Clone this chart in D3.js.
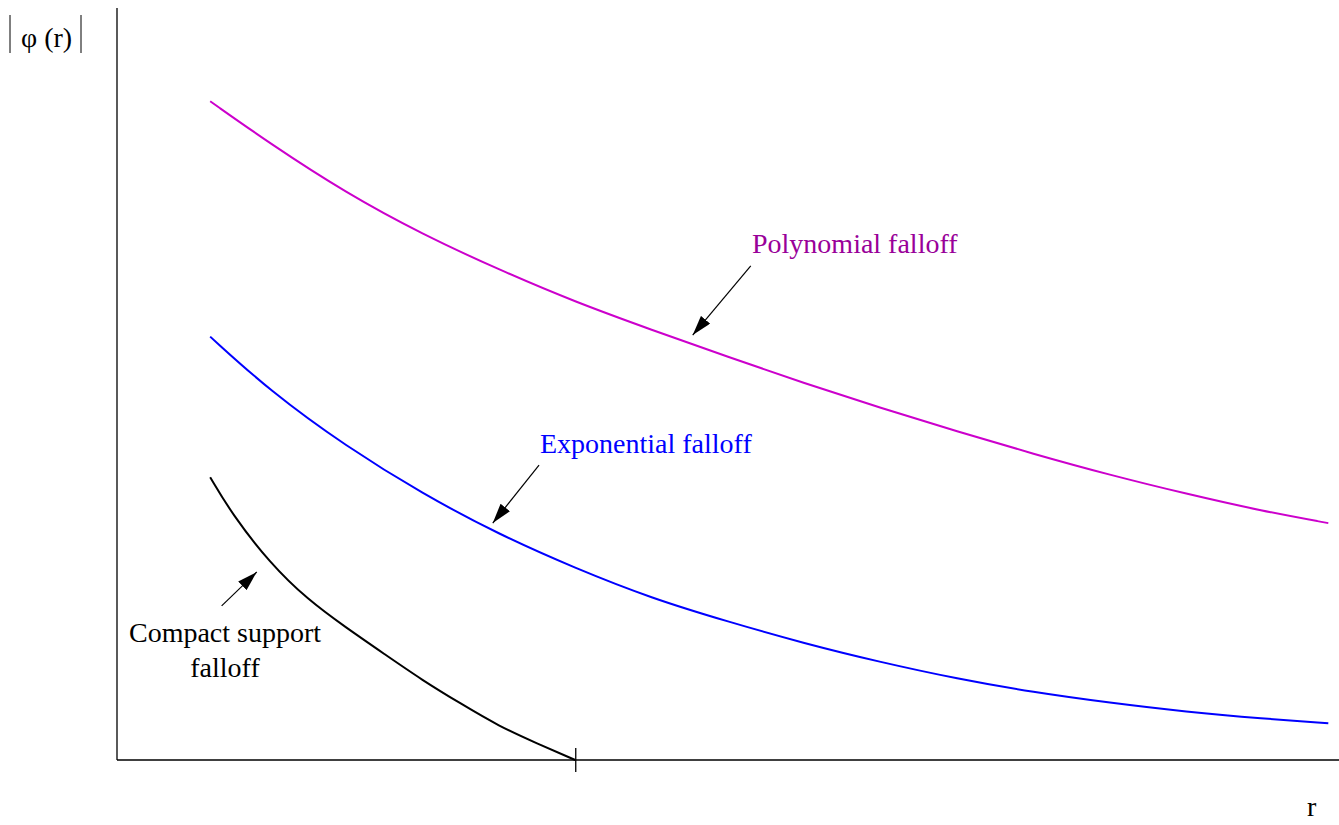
<!DOCTYPE html>
<html>
<head>
<meta charset="utf-8">
<script src="https://cdn.jsdelivr.net/npm/d3@7"></script>
<style>
  body { margin: 0; background: #fff; }
  text { font-family: "Liberation Serif", "Times New Roman", serif; }
</style>
</head>
<body>
<div class="container"></div>
<script>
// r values where the curves were sampled
const rPoly = [0.61, 1, 1.5, 2, 2.5, 3, 3.5, 4, 4.5, 5, 5.5, 6, 6.5, 7, 7.5, 7.93]
const polyVals = [0.876, 0.820, 0.754, 0.699, 0.652, 0.609, 0.572, 0.536, 0.501, 0.468, 0.437, 0.407, 0.379, 0.354, 0.331, 0.315]

const rExp = [0.61, 1, 1.5, 2, 2.5, 3, 3.5, 4, 4.5, 5, 5.5, 6, 6.5, 7, 7.5, 7.93]
const expVals = [0.563, 0.491, 0.417, 0.354, 0.300, 0.255, 0.215, 0.184, 0.155, 0.130, 0.108, 0.090, 0.076, 0.064, 0.055, 0.049]

const rCompact = [0.61, 0.75, 1, 1.25, 1.5, 1.75, 2, 2.25, 2.5, 2.75, 3]
const compactVals = [0.376, 0.328, 0.262, 0.213, 0.176, 0.141, 0.106, 0.075, 0.045, 0.022, 0]

const cutoff = 3
const seriesLabels = ["Polynomial falloff", "Exponential falloff", "Compact support", "falloff"]

const w = 1339
const h = 825
const padLeft = 117
const padBottom = 760
const padTop = 8

const svg = d3.select(".container")
              .append("svg")
              .attr("width", w)
              .attr("height", h)

const xScale = d3.scaleLinear().domain([0, 8]).range([padLeft, w])
const yScale = d3.scaleLinear().domain([0, 1]).range([padBottom, padTop])

svg.append("defs").append("marker")
   .attr("id", "head")
   .attr("viewBox", "0 0 20 12")
   .attr("refX", 20)
   .attr("refY", 6)
   .attr("markerUnits", "userSpaceOnUse")
   .attr("markerWidth", 20)
   .attr("markerHeight", 12)
   .attr("orient", "auto")
   .append("path")
   .attr("d", "M0,0 L20,6 L0,12 z")
   .attr("fill", "#000")

// axes: plain lines, only one tick at the cutoff
const xAxis = d3.axisBottom(xScale).tickValues([cutoff]).tickSize(12).tickFormat("")
svg.append("g")
   .attr("transform", "translate(0," + padBottom + ")")
   .call(xAxis)
   .call(g => g.select(".domain").attr("d", "M" + padLeft + ",0H" + w).attr("stroke-width", 1.3))
   .call(g => g.selectAll(".tick line").attr("y1", -12).attr("stroke-width", 1.3))

svg.append("line")
   .attr("x1", padLeft).attr("x2", padLeft)
   .attr("y1", padTop).attr("y2", padBottom)
   .attr("stroke", "#000").attr("stroke-width", 1.3)

const line = d3.line()
               .x(d => xScale(d[0]))
               .y(d => yScale(d[1]))
               .curve(d3.curveBasis)

const series = [
  { r: rPoly, v: polyVals, color: "#cc00cc" },
  { r: rExp, v: expVals, color: "#0000ff" },
  { r: rCompact, v: compactVals, color: "#000" }
]

svg.selectAll("path.curve")
   .data(series)
   .enter()
   .append("path")
   .attr("class", "curve")
   .attr("d", s => line(s.r.map((r, i) => [r, s.v[i]])))
   .attr("fill", "none")
   .attr("stroke", s => s.color)
   .attr("stroke-width", 2)

// arrows (tip next to the curve)
const arrows = [
  { from: [4.149, 0.657], to: [3.769, 0.565] },
  { from: [2.763, 0.392], to: [2.460, 0.315] },
  { from: [0.685, 0.205], to: [0.915, 0.250] }
]
svg.selectAll("line.arrow")
   .data(arrows)
   .enter()
   .append("line")
   .attr("class", "arrow")
   .attr("x1", d => xScale(d.from[0]))
   .attr("y1", d => yScale(d.from[1]))
   .attr("x2", d => xScale(d.to[0]))
   .attr("y2", d => yScale(d.to[1]))
   .attr("stroke", "#000")
   .attr("stroke-width", 1.2)
   .attr("marker-end", "url(#head)")

svg.append("text")
   .attr("x", 752).attr("y", 253)
   .attr("font-size", 28).attr("fill", "#990099")
   .text(seriesLabels[0])

svg.append("text")
   .attr("x", 540).attr("y", 453)
   .attr("font-size", 28).attr("fill", "#0000ff")
   .text(seriesLabels[1])

const compactLabel = svg.append("text")
   .attr("text-anchor", "middle")
   .attr("font-size", 28).attr("fill", "#000")
compactLabel.append("tspan").attr("x", 225).attr("y", 642).text(seriesLabels[2])
compactLabel.append("tspan").attr("x", 225).attr("y", 677).text(seriesLabels[3])

// axis titles
svg.append("text")
   .attr("x", 21).attr("y", 47)
   .attr("font-size", 28)
   .text("φ (r)")
svg.append("line").attr("x1", 10).attr("x2", 10).attr("y1", 15).attr("y2", 53)
   .attr("stroke", "#000").attr("stroke-width", 1)
svg.append("line").attr("x1", 81).attr("x2", 81).attr("y1", 15).attr("y2", 53)
   .attr("stroke", "#000").attr("stroke-width", 1)

svg.append("text")
   .attr("x", 1307).attr("y", 816)
   .attr("font-size", 28)
   .text("r")
</script>
</body>
</html>
